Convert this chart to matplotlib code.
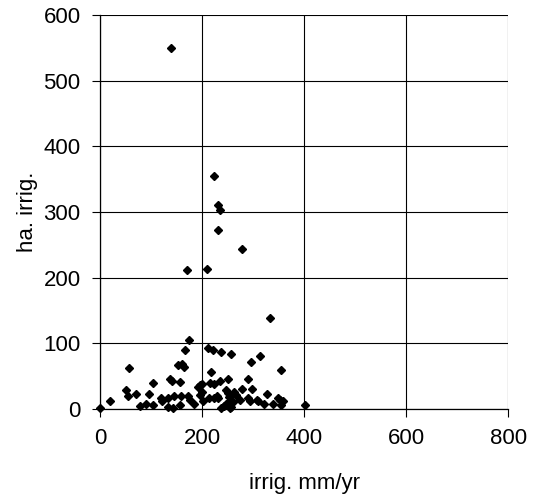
import matplotlib
matplotlib.use("Agg")
import matplotlib.pyplot as plt

# irrigation depth (mm/yr) vs irrigated area (ha)
irrig_mm = [140, 224, 232, 235, 231, 279, 171, 209, 334, 174,
            167, 211, 222, 237, 256, 313, 56, 152, 161, 165,
            295, 218, 355, 51, 55, 19, 0, 71, 78, 91,
            95, 103, 103, 119, 122, 134, 137, 141, 144, 133,
            142, 157, 159, 156, 172, 177, 184, 191, 196, 199,
            196, 199, 201, 213, 215, 224, 236, 224, 229, 231,
            237, 242, 247, 251, 250, 252, 247, 251, 255, 257,
            256, 260, 263, 267, 275, 279, 290, 290, 293, 297,
            307, 309, 322, 327, 339, 349, 353, 354, 359, 401]
ha_irrig = [550, 355, 311, 303, 272, 243, 211, 213, 138, 105,
            90, 92, 89, 86, 84, 80, 62, 67, 68, 64,
            71, 56, 59, 28, 19, 12, 2, 23, 4, 8,
            23, 40, 6, 16, 12, 17, 46, 42, 20, 3,
            1, 41, 19, 6, 19, 13, 8, 34, 36, 38,
            21, 25, 12, 16, 40, 38, 43, 17, 19, 17,
            2, 5, 28, 45, 24, 18, 8, 6, 1, 3,
            13, 10, 25, 21, 14, 30, 45, 17, 12, 31,
            14, 12, 8, 22, 8, 17, 13, 6, 12, 6]

plt.rcParams['font.family'] = ['Liberation Sans', 'DejaVu Sans']

fig = plt.figure(figsize=(5.35, 4.95), dpi=100)
ax = fig.add_axes([0.187, 0.174, 0.763, 0.796])

ax.plot(irrig_mm, ha_irrig, linestyle='none', marker='D', markersize=4,
        color='black', zorder=3, clip_on=False)

ax.set_xlim(0, 800)
ax.set_ylim(0, 600)
ax.set_xticks([0, 200, 400, 600, 800])
ax.set_yticks([0, 100, 200, 300, 400, 500, 600])
ax.grid(True, color='black', linewidth=0.8)
ax.set_axisbelow(True)

for s in ['top', 'right']:
    ax.spines[s].set_visible(False)
for s in ['left', 'bottom']:
    ax.spines[s].set_linewidth(0.9)

ax.tick_params(direction='out', length=6, width=0.8, labelsize=16, pad=8)
ax.set_xlabel('irrig. mm/yr', fontsize=16, labelpad=17)
ax.set_ylabel('ha. irrig.', fontsize=16, labelpad=4)

fig.savefig('out.png', dpi=100)
